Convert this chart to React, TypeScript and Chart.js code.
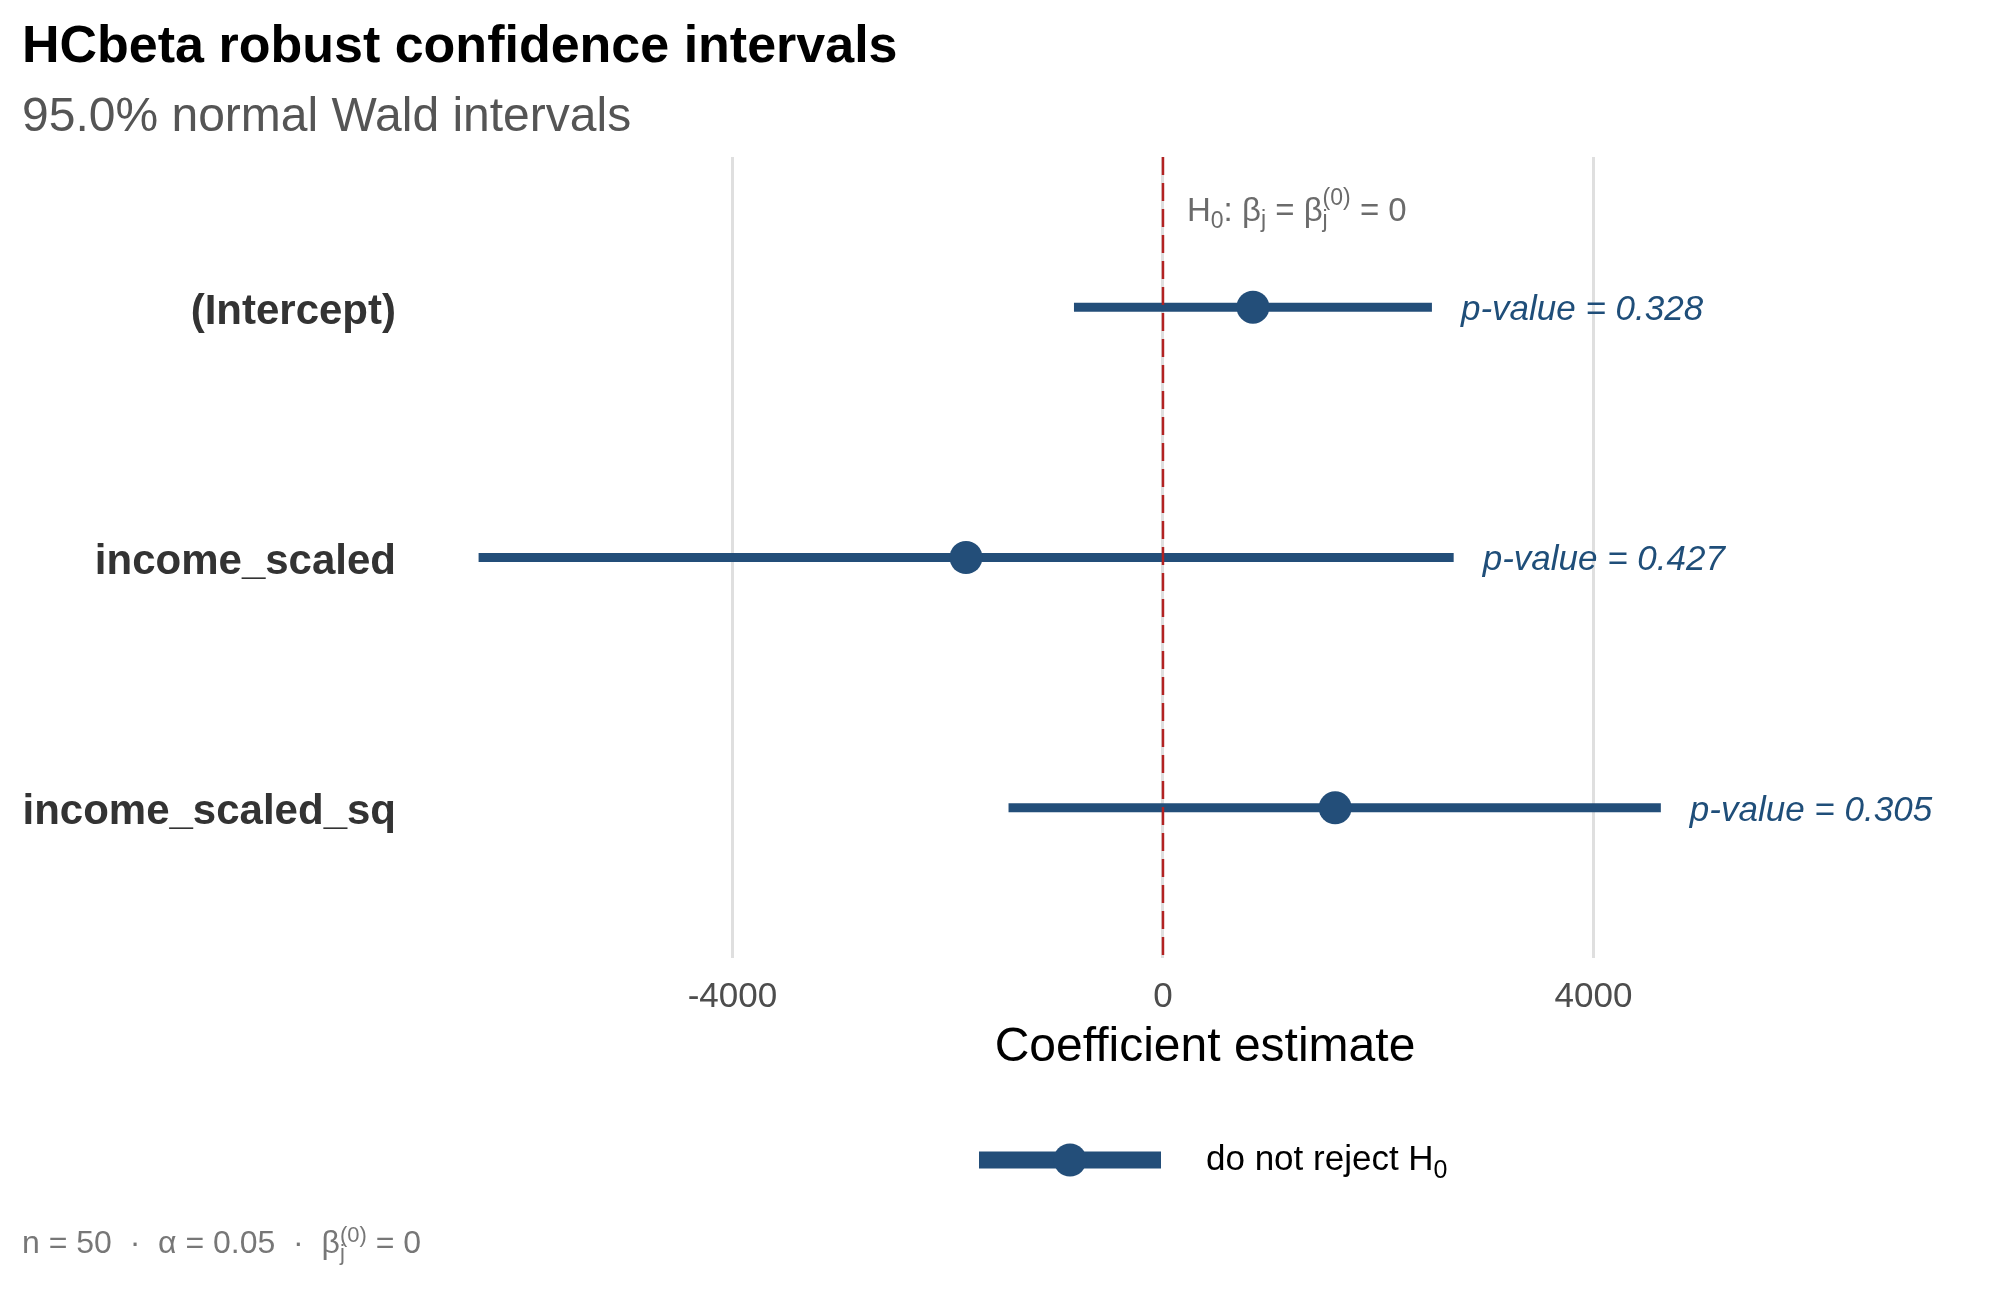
import React, { useEffect, useRef } from 'react';
import { Chart, registerables } from 'chart.js';

Chart.register(...registerables);

// ---------------- data ----------------
const categories = ['(Intercept)', 'income_scaled', 'income_scaled_sq'];
const estimates = [836, -1830, 1600];
const lowerCI = [-827, -6359, -1435];
const upperCI = [2499, 2701, 4626];
const pValues = ['0.328', '0.427', '0.305'];
const xTicks = [-4000, 0, 4000];
const xLimits = [-6922, 7703];

// ---------------- style ----------------
const W = 2016;
const H = 1296;
const FONT = '"Liberation Sans", Arial, Helvetica, sans-serif';
const BLUE = '#234E79';
const TEXT_BLUE = '#1F4E79';

type Seg = { t: string; size: number; dy?: number; stack?: boolean };

function drawRich(
  ctx: CanvasRenderingContext2D,
  x: number,
  y: number,
  segs: Seg[],
  color: string,
  weight = 'normal',
  style = 'normal'
) {
  ctx.fillStyle = color;
  ctx.textAlign = 'left';
  ctx.textBaseline = 'alphabetic';
  let cx = x;
  let prevStart = x;
  let prevW = 0;
  for (const s of segs) {
    ctx.font = `${style} ${weight} ${s.size}px ${FONT}`;
    const w = ctx.measureText(s.t).width;
    if (s.stack) {
      ctx.fillText(s.t, prevStart, y + (s.dy || 0));
      cx = prevStart + Math.max(prevW, w);
    } else {
      ctx.fillText(s.t, cx, y + (s.dy || 0));
      prevStart = cx;
      prevW = w;
      cx += w;
    }
  }
}

const annotationPlugin = {
  id: 'annotations',
  afterDraw(chart: any) {
    const ctx: CanvasRenderingContext2D = chart.ctx;
    const xs = chart.scales.x;
    const ys = chart.scales.y;
    ctx.save();

    // Title & subtitle
    ctx.textAlign = 'left';
    ctx.textBaseline = 'alphabetic';
    ctx.fillStyle = '#000000';
    ctx.font = `bold 52px ${FONT}`;
    ctx.fillText('HCbeta robust confidence intervals', 22, 62);
    ctx.fillStyle = '#555555';
    ctx.font = `normal 48px ${FONT}`;
    ctx.fillText('95.0% normal Wald intervals', 22, 131);

    // H0 annotation
    drawRich(
      ctx,
      xs.getPixelForValue(0) + 24,
      221,
      [
        { t: 'H', size: 33 },
        { t: '0', size: 23, dy: 7 },
        { t: ': β', size: 33 },
        { t: 'j', size: 23, dy: 6 },
        { t: ' = β', size: 33 },
        { t: 'j', size: 23, dy: 6 },
        { t: '(0)', size: 23, dy: -16, stack: true },
        { t: ' = 0', size: 33 },
      ],
      '#6B6B6B'
    );

    // p-value labels
    ctx.fillStyle = TEXT_BLUE;
    ctx.font = `italic normal 35px ${FONT}`;
    ctx.textAlign = 'left';
    ctx.textBaseline = 'middle';
    categories.forEach((_, i) => {
      ctx.fillText(
        `p-value = ${pValues[i]}`,
        xs.getPixelForValue(upperCI[i]) + 29,
        ys.getPixelForValue(i) + 3
      );
    });

    // Legend
    ctx.strokeStyle = BLUE;
    ctx.lineWidth = 17;
    ctx.lineCap = 'butt';
    ctx.beginPath();
    ctx.moveTo(979, 1160);
    ctx.lineTo(1161, 1160);
    ctx.stroke();
    ctx.fillStyle = BLUE;
    ctx.beginPath();
    ctx.arc(1070, 1160, 16.5, 0, Math.PI * 2);
    ctx.fill();
    drawRich(
      ctx,
      1206,
      1170,
      [
        { t: 'do not reject H', size: 35 },
        { t: '0', size: 25, dy: 8 },
      ],
      '#000000'
    );

    // Caption
    drawRich(
      ctx,
      22,
      1253,
      [
        { t: 'n = 50  ·  α = 0.05  ·  β', size: 32 },
        { t: 'j', size: 22, dy: 7 },
        { t: '(0)', size: 22, dy: -11, stack: true },
        { t: ' = 0', size: 32 },
      ],
      '#777777'
    );

    ctx.restore();
  },
};

export default function App() {
  const canvasRef = useRef<HTMLCanvasElement | null>(null);

  useEffect(() => {
    if (!canvasRef.current) return;
    Chart.defaults.font.family = FONT;

    const ciDatasets = categories.map((c, i) => ({
      type: 'line' as const,
      label: c,
      data: [
        { x: lowerCI[i], y: i },
        { x: upperCI[i], y: i },
      ],
      borderColor: BLUE,
      borderWidth: 9,
      borderCapStyle: 'butt' as const,
      pointRadius: 0,
      fill: false,
      order: 2,
    }));

    const chart = new Chart(canvasRef.current, {
      type: 'scatter',
      data: {
        datasets: [
          {
            type: 'line',
            label: 'zero',
            data: [
              { x: 0, y: -0.6 },
              { x: 0, y: 2.6 },
            ],
            borderColor: '#B22222',
            borderWidth: 2.5,
            borderDash: [18, 8],
            pointRadius: 0,
            fill: false,
            order: 0,
          } as any,
          {
            type: 'scatter',
            label: 'estimate',
            data: estimates.map((e, i) => ({ x: e, y: i })),
            pointRadius: 16.5,
            pointBackgroundColor: BLUE,
            pointBorderWidth: 0,
            backgroundColor: BLUE,
            borderColor: BLUE,
            order: 1,
          } as any,
          ...(ciDatasets as any[]),
        ],
      },
      options: {
        animation: false,
        responsive: false,
        devicePixelRatio: 1,
        layout: { padding: { top: 157, right: 24, left: 0, bottom: 0 } },
        plugins: {
          legend: { display: false },
          tooltip: { enabled: false },
          title: { display: false },
        },
        scales: {
          x: {
            type: 'linear',
            min: xLimits[0],
            max: xLimits[1],
            afterBuildTicks: (scale: any) => {
              scale.ticks = xTicks.map((v) => ({ value: v }));
            },
            afterFit: (scale: any) => {
              scale.height = 338;
            },
            grid: {
              color: '#DFDFDF',
              lineWidth: 3,
              drawTicks: false,
            },
            border: { display: false },
            ticks: {
              font: { size: 35, family: FONT },
              color: '#4D4D4D',
              padding: 18,
              maxRotation: 0,
              callback: (v: any) => String(v),
            },
            title: {
              display: true,
              text: 'Coefficient estimate',
              color: '#000000',
              font: { size: 48, family: FONT },
              padding: { top: 0, bottom: 219 },
            },
          },
          y: {
            type: 'linear',
            min: -0.6,
            max: 2.6,
            reverse: true,
            afterBuildTicks: (scale: any) => {
              scale.ticks = categories.map((_, i) => ({ value: i }));
            },
            afterFit: (scale: any) => {
              scale.width = 418;
            },
            grid: { display: false, drawTicks: false },
            border: { display: false },
            ticks: {
              font: { size: 42, weight: 'bold', family: FONT },
              color: '#333333',
              padding: 22,
              labelOffset: 5,
              callback: (v: any) => categories[Math.round(Number(v))] ?? '',
            },
          },
        },
      } as any,
      plugins: [annotationPlugin],
    });

    return () => {
      chart.destroy();
    };
  }, []);

  return (
    <div
      style={{
        position: 'fixed',
        left: 0,
        top: 0,
        width: W,
        height: H,
        background: '#ffffff',
      }}
    >
      <canvas ref={canvasRef} width={W} height={H} style={{ display: 'block', width: W, height: H }} />
    </div>
  );
}
